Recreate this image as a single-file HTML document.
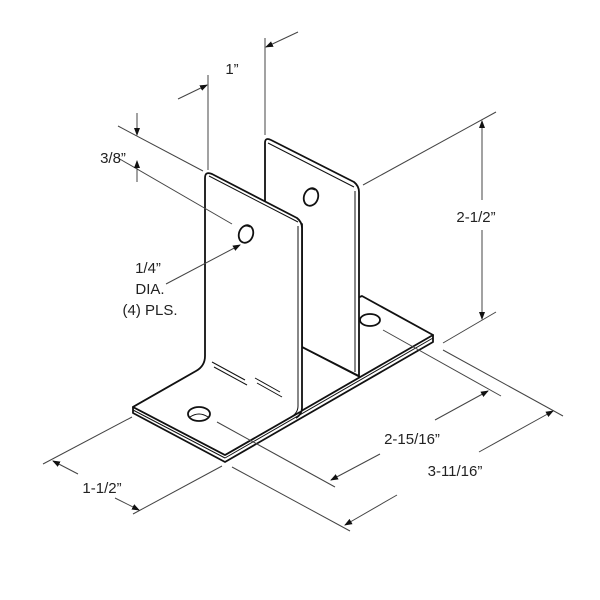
<!DOCTYPE html>
<html><head><meta charset="utf-8"><style>
html,body{margin:0;padding:0;background:#fff;}
svg{display:block}
text{font-family:"Liberation Sans",sans-serif;font-size:15px;fill:#222}
</style></head><body>
<svg width="600" height="600" viewBox="0 0 600 600" xmlns="http://www.w3.org/2000/svg">
<defs>
<marker id="a" markerWidth="8" markerHeight="8" refX="7" refY="4" orient="auto" markerUnits="userSpaceOnUse">
<path d="M0,1 L8,4 L0,7 Z" fill="#111"/></marker>
</defs>

<g stroke="#111" stroke-width="1.8" fill="#fff" stroke-linejoin="round">
<path d="M133,407 L133,413 L225,462 L433,342 L433,335 Z"/>
<line x1="133" y1="410" x2="225" y2="458" stroke-width="1"/>
<line x1="225" y1="458" x2="433" y2="338" stroke-width="1"/>
<path d="M133,407 L225,455 L433,335 L362,296 L205,362 Q205,366 198,370 Z"/>
<!-- back upright -->
<path d="M265,204 L265,143 Q265,137 271,140 L354,182 Q359,186 359,192 L359,376 L302,347 L302,224 Z"/>
<line x1="268" y1="143" x2="354" y2="187" stroke-width="1"/>
<line x1="355" y1="191" x2="355" y2="372" stroke-width="1"/>
<line x1="302" y1="347" x2="360" y2="377"/>
<ellipse cx="311" cy="197" rx="7" ry="9" transform="rotate(20 311 197)"/>
<path d="M305,193 Q309,187 315,190" fill="none" stroke-width="1"/>
<ellipse cx="370" cy="320" rx="10" ry="6"/>
<!-- front upright -->
<path d="M205,360 L205,178 Q205,171 212,174 L297,218 Q302,222 302,228 L302,410 L225,455 L133,407 L196,370 Q205,366 205,360 Z" stroke="none"/>
<path d="M133,407 L196,371 Q205,366 205,356 L205,178 Q205,171 212,174 L297,218 Q302,222 302,228 L302,408 Q302,414 296,418" fill="none"/>
<line x1="209" y1="176" x2="298" y2="222" stroke-width="1"/>
<line x1="298" y1="226" x2="298" y2="406" stroke-width="1"/>
<path d="M298,406 Q298,413 291,417" fill="none" stroke-width="1"/>
<line x1="133" y1="407" x2="225" y2="455"/>
<line x1="225" y1="455" x2="300" y2="412"/>
<ellipse cx="246" cy="234" rx="7" ry="9" transform="rotate(20 246 234)"/>
<path d="M240,230 Q244,224 250,227" fill="none" stroke-width="1"/>
<ellipse cx="199" cy="414" rx="11" ry="7"/>
<path d="M190,417 Q199,411 208,417" fill="none" stroke-width="1"/>
</g>
<g stroke="#111" stroke-width="1">
<line x1="212" y1="362" x2="245" y2="380"/>
<line x1="214" y1="367" x2="247" y2="385"/>
<line x1="255" y1="378" x2="280" y2="392"/>
<line x1="257" y1="383" x2="282" y2="397"/>
</g>

<g stroke="#444" stroke-width="1" fill="none">
<line x1="208" y1="75" x2="208" y2="170"/>
<line x1="265" y1="38" x2="265" y2="135"/>
<line x1="178" y1="99" x2="207" y2="85" marker-end="url(#a)"/>
<line x1="298" y1="32" x2="266" y2="47" marker-end="url(#a)"/>
<line x1="118" y1="126" x2="203" y2="171"/>
<line x1="118" y1="158" x2="232" y2="224"/>
<line x1="137" y1="113" x2="137" y2="135" marker-end="url(#a)"/>
<line x1="137" y1="182" x2="137" y2="161" marker-end="url(#a)"/>
<line x1="166" y1="284" x2="240" y2="245" marker-end="url(#a)"/>
<line x1="363" y1="185" x2="496" y2="112"/>
<line x1="443" y1="343" x2="496" y2="312"/>
<line x1="482" y1="200" x2="482" y2="121" marker-end="url(#a)"/>
<line x1="482" y1="230" x2="482" y2="319" marker-end="url(#a)"/>
<line x1="383" y1="330" x2="501" y2="396"/>
<line x1="217" y1="422" x2="335" y2="487"/>
<line x1="380" y1="454" x2="331" y2="480" marker-end="url(#a)"/>
<line x1="435" y1="420" x2="488" y2="391" marker-end="url(#a)"/>
<line x1="443" y1="350" x2="563" y2="416"/>
<line x1="232" y1="467" x2="350" y2="531"/>
<line x1="397" y1="495" x2="345" y2="525" marker-end="url(#a)"/>
<line x1="479" y1="452" x2="553" y2="411" marker-end="url(#a)"/>
<line x1="132" y1="417" x2="43" y2="464"/>
<line x1="222" y1="466" x2="133" y2="514"/>
<line x1="78" y1="474" x2="53" y2="461" marker-end="url(#a)"/>
<line x1="115" y1="498" x2="139" y2="510" marker-end="url(#a)"/>
</g>

<text x="232" y="74" text-anchor="middle">1”</text>
<text x="113" y="163" text-anchor="middle">3/8”</text>
<text x="148" y="273" text-anchor="middle">1/4”</text>
<text x="150" y="294" text-anchor="middle">DIA.</text>
<text x="150" y="315" text-anchor="middle">(4) PLS.</text>
<text x="476" y="222" text-anchor="middle">2-1/2”</text>
<text x="412" y="444" text-anchor="middle">2-15/16”</text>
<text x="455" y="476" text-anchor="middle">3-11/16”</text>
<text x="102" y="493" text-anchor="middle">1-1/2”</text>
</svg>
</body></html>
